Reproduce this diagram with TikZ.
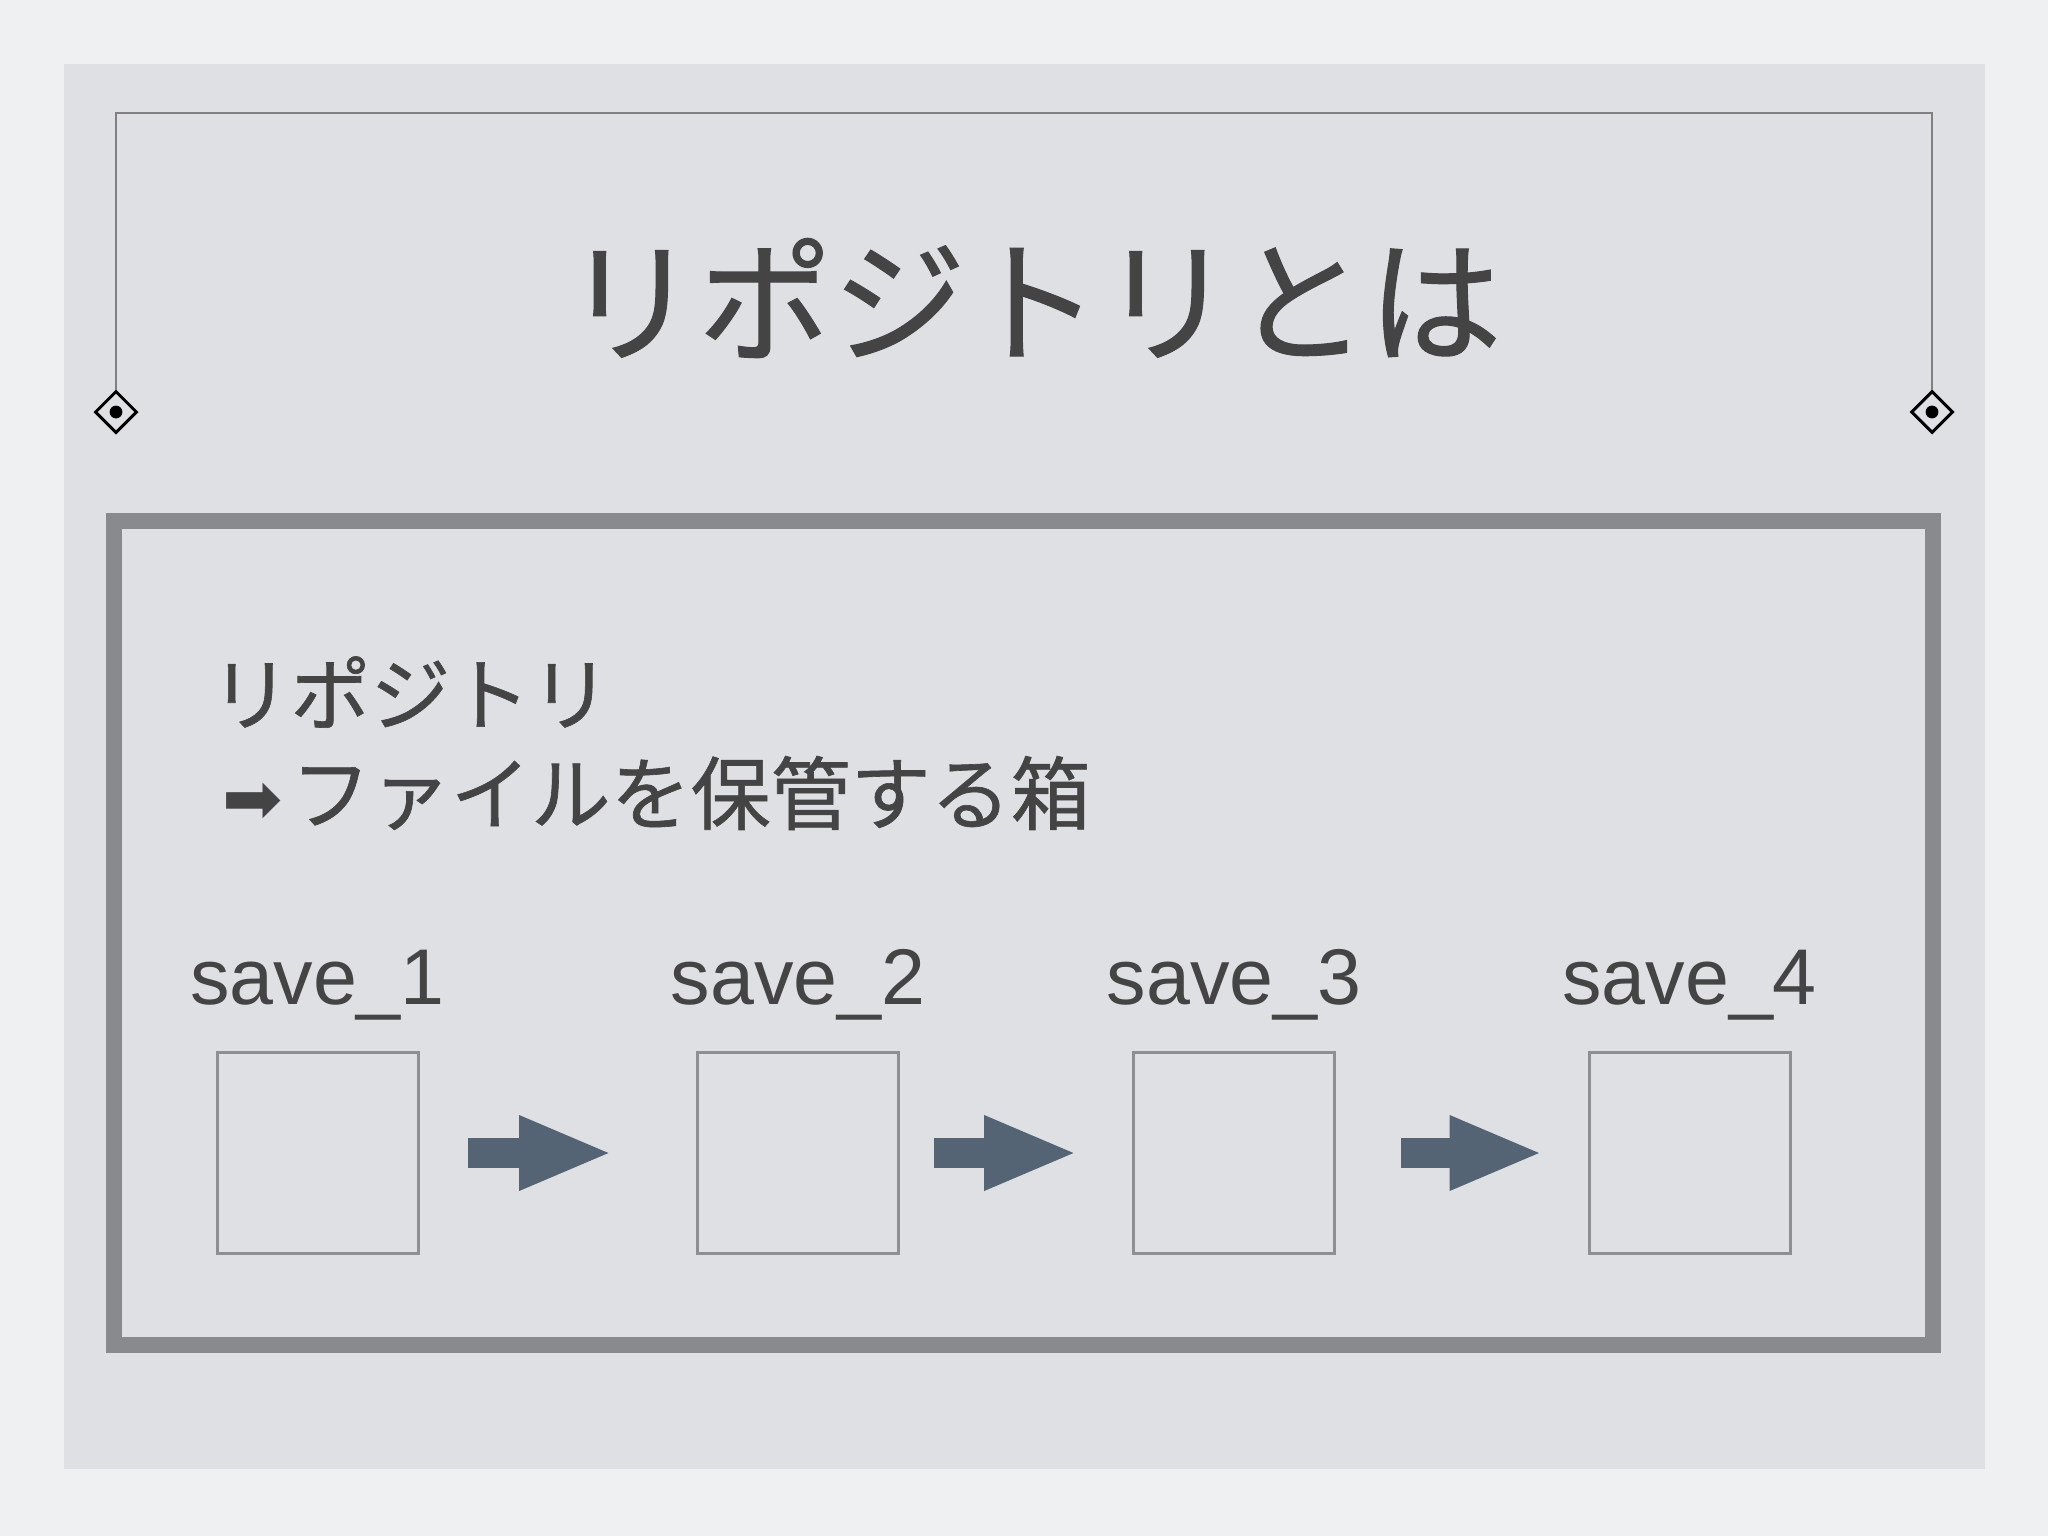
\documentclass[tikz,border=0pt]{standalone}
\usepackage{fontspec}
\setmainfont{Liberation Sans}
\newfontfamily\jpfont[FakeBold=0.8]{Noto Sans CJK JP}
\newfontfamily\symfont{DejaVu Sans}
\usetikzlibrary{arrows.meta,shapes.geometric,positioning}
\definecolor{pagebg}{HTML}{EFF0F2}
\definecolor{panelbg}{HTML}{DFE0E3}
\definecolor{frameln}{HTML}{898A8D}
\definecolor{topln}{HTML}{808080}
\definecolor{boxln}{HTML}{8E8F92}
\definecolor{txt}{HTML}{444444}
\definecolor{slate}{HTML}{546474}
\begin{document}
\begin{tikzpicture}[x=0.5pt, y=-0.5pt,
  savebox/.style={draw=boxln, line width=1.5pt, minimum size=100.5pt, inner sep=0pt},
  savelbl/.style={font=\fontsize{39.5}{47}\selectfont, text=txt, anchor=base, inner sep=0pt},
  body/.style={font=\jpfont\fontsize{40}{48}\selectfont, text=txt, anchor=west, inner sep=0pt},
  flow/.style={slate, line width=15pt, -{Triangle[length=47pt,width=34pt]}},
  corner/.style={draw=black, line width=1.5pt, diamond, minimum size=21pt, inner sep=0pt, fill=panelbg}]

\useasboundingbox (0,0) rectangle (2048,1536);
\fill[pagebg] (0,0) rectangle (2048,1536);
\fill[panelbg] (64,64) rectangle (1985,1469);

\node[corner] (dl) at (116,412) {};
\node[corner] (dr) at (1932,412) {};
\draw[topln, line width=1pt] (dl.north) |- (1932,113) -- (dr.north);
\fill (dl.center) circle (3.2pt);
\fill (dr.center) circle (3.2pt);

\node[font=\jpfont\fontsize{67}{80}\selectfont, text=txt] (title) at (1033,298) {リポジトリとは};

\draw[frameln, line width=8pt] (114,521) rectangle (1933,1345);

\node[body] (repo) at (210,692) {リポジトリ};
\node[body] (desc) at (222,793) {{\symfont\fontsize{36}{44}\selectfont ➡}\hspace{4pt}ファイルを保管する箱};

\node[savebox] (b1) at (317.5,1153) {};
\node[savebox] (b2) at (798,1153) {};
\node[savebox] (b3) at (1234,1153) {};
\node[savebox] (b4) at (1689.5,1153) {};

\foreach \n in {1,...,4}
  \node[savelbl] (l\n) at ([yshift=23.5pt]b\n.north) {save\_\n};

\foreach \a/\b/\s/\e in {b1/b2/24pt/41.5pt, b2/b3/17pt/27pt, b3/b4/32.5pt/22pt}
  \draw[flow, shorten <=\s, shorten >=\e] (\a.east) -- (\b.west);

\end{tikzpicture}
\end{document}
